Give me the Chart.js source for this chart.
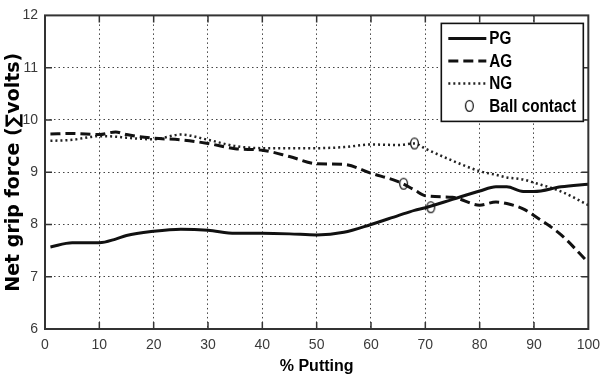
<!DOCTYPE html>
<html>
<head>
<meta charset="utf-8">
<script src="https://cdn.jsdelivr.net/npm/chart.js@4"></script>
<style>
  html, body { margin: 0; padding: 0; background: #fff; }
  #wrap { width: 608px; height: 378px; }
</style>
</head>
<body>
<div id="wrap"><canvas id="gripChart" width="608" height="378"></canvas></div>
<script>
// % of putting stroke
const putting = [1, 5, 10, 13, 15, 20, 25, 30, 35, 40, 45, 50, 55, 60, 65, 68, 70, 75, 80, 83, 85, 88, 90, 95, 100];
const pgForce = [7.57, 7.65, 7.65, 7.72, 7.79, 7.87, 7.91, 7.89, 7.83, 7.83, 7.82, 7.80, 7.85, 8.00, 8.17, 8.27, 8.32, 8.48, 8.64, 8.72, 8.72, 8.63, 8.63, 8.72, 8.77];
const agForce = [9.73, 9.74, 9.72, 9.77, 9.72, 9.65, 9.62, 9.55, 9.45, 9.42, 9.30, 9.16, 9.15, 8.98, 8.82, 8.66, 8.55, 8.52, 8.37, 8.43, 8.40, 8.30, 8.17, 7.80, 7.27];
const ngForce = [9.60, 9.62, 9.69, 9.68, 9.66, 9.63, 9.72, 9.62, 9.50, 9.46, 9.46, 9.46, 9.48, 9.53, 9.52, 9.55, 9.45, 9.22, 9.02, 8.95, 8.90, 8.86, 8.80, 8.63, 8.37];

// ball contact moments (AG, NG, PG)
const contactX = [66, 68, 71];
const contactY = [8.78, 9.55, 8.33];

const xTicks = [0, 10, 20, 30, 40, 50, 60, 70, 80, 90, 100];
const yTicks = [6, 7, 8, 9, 10, 11, 12];

function toPoints(xs, ys) {
  return xs.map((x, i) => ({ x: x, y: ys[i] }));
}

// small open ellipse, the marker used for ball contact
function makeRing() {
  const c = document.createElement('canvas');
  c.width = 11;
  c.height = 14;
  const g = c.getContext('2d');
  g.strokeStyle = '#1a1a1a';
  g.lineWidth = 1.3;
  g.beginPath();
  g.ellipse(5.5, 7, 3.9, 5.4, 0, 0, Math.PI * 2);
  g.stroke();
  return c;
}
const ring = makeRing();

function lineSet(label, data, dash, width, color) {
  return {
    label: label,
    data: toPoints(putting, data),
    showLine: true,
    borderColor: color,
    borderWidth: width,
    borderDash: dash,
    pointRadius: 0,
    fill: false,
    tension: 0.3,
    cubicInterpolationMode: 'monotone',
  };
}

// frame on all four sides + short inner ticks like the original plot
const framePlugin = {
  id: 'frame',
  afterDatasetsDraw(chart) {
    const { ctx, chartArea: a, scales } = chart;
    ctx.save();
    ctx.strokeStyle = '#333';
    ctx.lineWidth = 2;
    ctx.strokeRect(a.left, a.top, a.right - a.left, a.bottom - a.top);
    ctx.lineWidth = 1.5;
    ctx.beginPath();
    xTicks.slice(1, -1).forEach(v => {
      const px = scales.x.getPixelForValue(v);
      ctx.moveTo(px, a.bottom); ctx.lineTo(px, a.bottom - 7);
      ctx.moveTo(px, a.top); ctx.lineTo(px, a.top + 7);
    });
    yTicks.slice(1, -1).forEach(v => {
      const py = scales.y.getPixelForValue(v);
      ctx.moveTo(a.left, py); ctx.lineTo(a.left + 7, py);
      ctx.moveTo(a.right, py); ctx.lineTo(a.right - 7, py);
    });
    ctx.stroke();
    ctx.restore();
  },
};

// legend box drawn inside the plot, top right
const insideLegend = {
  id: 'insideLegend',
  afterDraw(chart) {
    const { ctx, chartArea: a } = chart;
    const w = 142, h = 98;
    const left = a.right - 5 - w;
    const top = a.top + 8;
    ctx.save();
    ctx.fillStyle = '#fff';
    ctx.fillRect(left, top, w, h);
    ctx.strokeStyle = '#111';
    ctx.lineWidth = 1.6;
    ctx.strokeRect(left, top, w, h);

    chart.data.datasets.forEach((ds, i) => {
      const y = top + 15 + i * 22.5;
      if (ds.showLine) {
        ctx.strokeStyle = ds.borderColor;
        ctx.lineWidth = ds.borderWidth;
        ctx.setLineDash(ds.borderDash || []);
        ctx.beginPath();
        ctx.moveTo(left + 7, y);
        ctx.lineTo(left + 45, y);
        ctx.stroke();
        ctx.setLineDash([]);
      } else {
        ctx.drawImage(ring, left + 28 - ring.width / 2, y - ring.height / 2);
      }
      ctx.save();
      ctx.translate(left + 48, y);
      ctx.scale(0.85, 1);
      ctx.fillStyle = '#000';
      ctx.font = 'bold 18px "Liberation Sans", Arial, sans-serif';
      ctx.textBaseline = 'middle';
      ctx.fillText(ds.label, 0, 1);
      ctx.restore();
    });
    ctx.restore();
  },
};

function createGripChart(chartId) {
  const ctx = document.getElementById(chartId).getContext('2d');
  const tickFont = { family: '"Liberation Sans", Arial, sans-serif', size: 14 };

  return new Chart(ctx, {
    type: 'scatter',
    data: {
      datasets: [
        lineSet('PG', pgForce, [], 3, '#111'),
        lineSet('AG', agForce, [10, 5], 3, '#111'),
        lineSet('NG', ngForce, [2, 3], 2.5, '#222'),
        {
          label: 'Ball contact',
          data: toPoints(contactX, contactY),
          showLine: false,
          pointStyle: ring,
          pointRadius: 5,
        },
      ],
    },
    options: {
      responsive: false,
      animation: false,
      layout: { padding: { left: 0, right: 12, top: 14, bottom: 0 } },
      plugins: {
        legend: { display: false },
        tooltip: { enabled: false },
      },
      scales: {
        x: {
          type: 'linear',
          min: 0,
          max: 100,
          afterFit: scale => { scale.height = 49; },
          ticks: { stepSize: 10, color: '#3a3a3a', font: tickFont, padding: 8, maxRotation: 0 },
          grid: { color: '#444', lineWidth: 1, drawTicks: false },
          border: { display: false, dash: [1.5, 3] },
          title: {
            display: true,
            text: '% Putting',
            color: '#000',
            font: { family: '"Liberation Sans", Arial, sans-serif', size: 16, weight: 'bold' },
            padding: { top: 0, bottom: 2 },
          },
        },
        y: {
          type: 'linear',
          min: 6,
          max: 12,
          afterFit: scale => { scale.width = 45; },
          ticks: { stepSize: 1, color: '#3a3a3a', font: tickFont, padding: 7 },
          grid: { color: '#444', lineWidth: 1, drawTicks: false },
          border: { display: false, dash: [1.5, 3] },
          title: {
            display: true,
            text: 'Net grip force (∑volts)',
            color: '#000',
            font: { family: '"DejaVu Sans", sans-serif', size: 19, weight: 'bold' },
            padding: { top: 3, bottom: 0 },
          },
        },
      },
    },
    plugins: [framePlugin, insideLegend],
  });
}

document.addEventListener('DOMContentLoaded', function () {
  createGripChart('gripChart');
});
</script>
</body>
</html>
